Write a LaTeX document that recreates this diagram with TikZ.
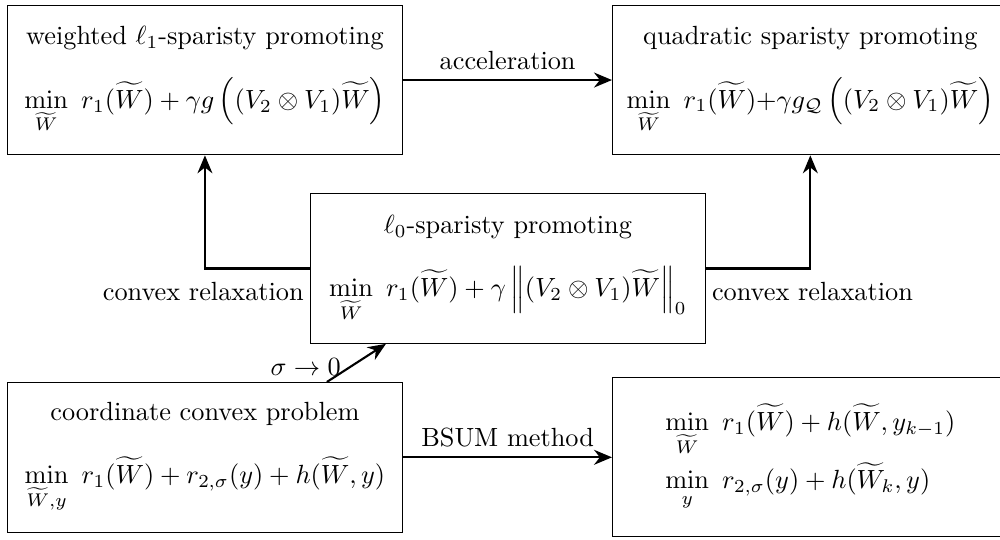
\documentclass[tikz,border=0pt]{standalone}
\usepackage{amsmath,amssymb}
\usetikzlibrary{arrows.meta,positioning}

\begin{document}
\begin{tikzpicture}[node distance=2.79cm,
  b/.style={draw,thin,align=center,minimum width=5.29cm,minimum height=2cm},
  a/.style={-{Stealth[length=2.4mm,width=2mm]},thick},
  lbl/.style={inner sep=2pt}]
  \useasboundingbox (0,0) rectangle (13.37,-7.21);
  \node[b] (wl1) at (2.74,-1.07) {weighted $\ell_1$-sparisty promoting\\[9.5pt]
    $\displaystyle\min_{\widetilde{W}}\ r_1(\widetilde{W})+\gamma g\left((V_2\otimes V_1)\widetilde{W}\right)$};
  \node[b,right=of wl1] (quad) {quadratic sparisty promoting\\[9.5pt]
    $\displaystyle\min_{\widetilde{W}}\ r_1(\widetilde{W}){+}\gamma g_{\mathcal{Q}}\left((V_2\otimes V_1)\widetilde{W}\right)$};
  \node[b] (l0) at (6.79,-3.59) {$\ell_0$-sparisty promoting\\[9.5pt]
    $\displaystyle\min_{\widetilde{W}}\ r_1(\widetilde{W})+\gamma\left\|(V_2\otimes V_1)\widetilde{W}\right\|_0$};
  \node[b,below=3.03cm of wl1] (coord) {coordinate convex problem\\[12pt]
    $\displaystyle\min_{\widetilde{W},y}\ r_1(\widetilde{W})+r_{2,\sigma}(y)+h(\widetilde{W},y)$};
  \node[b,align=left,minimum height=2.13cm,right=of coord] (bsum) {$\displaystyle\min_{\widetilde{W}}\ r_1(\widetilde{W})+h(\widetilde{W},y_{k-1})$\\[1.5pt]
    $\displaystyle\min_{y}\ r_{2,\sigma}(y)+h(\widetilde{W}_k,y)$};
  % arrows
  \draw[a] (wl1) -- node[above] {acceleration} (quad);
  \draw[a] (l0.west) -| (wl1.south);
  \node[lbl,below left,yshift=-3pt] at (l0.west) {convex relaxation};
  \draw[a] (l0.east) -| (quad.south);
  \node[lbl,below right,yshift=-3pt] at (l0.east) {convex relaxation};
  \draw[a] ([xshift=1.63cm]coord.north) -- node[pos=0.4,left] {$\sigma\to0$} ([xshift=-1.63cm]l0.south);
  \draw[a] (coord) -- node[above] {BSUM method} (bsum);
\end{tikzpicture}
\end{document}
